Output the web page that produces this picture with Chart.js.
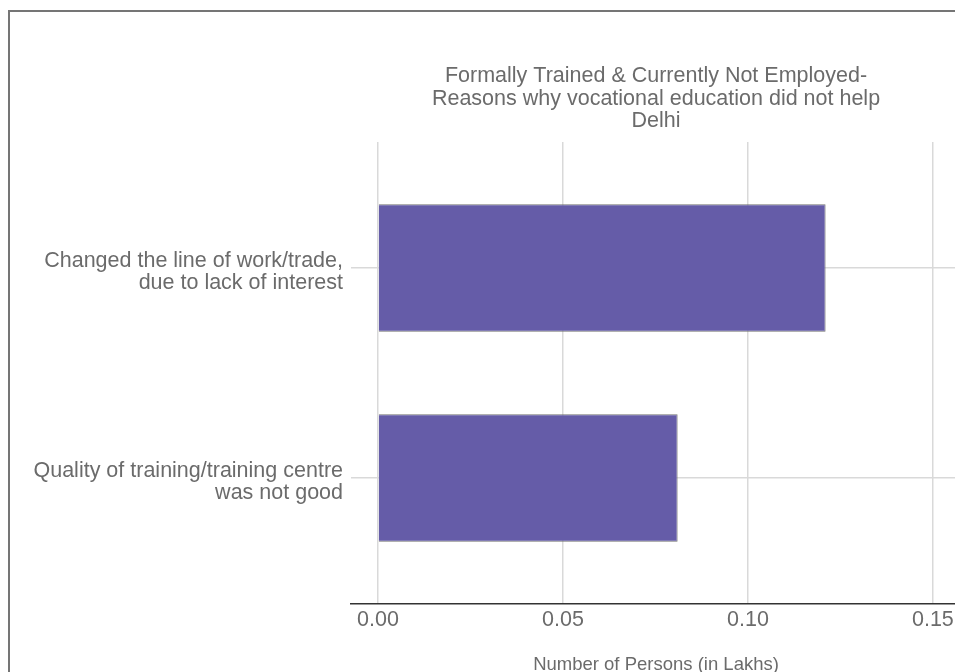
<!DOCTYPE html>
<html>
<head>
<meta charset="utf-8">
<script src="https://cdn.jsdelivr.net/npm/chart.js@4"></script>
<style>
  html, body { margin: 0; padding: 0; overflow: hidden; background: #fff; width: 955px; height: 672px; }
  #frame { position: absolute; left: 8px; top: 10px; width: 1000px; height: 700px;
           border-left: 2px solid #757575; border-top: 2px solid #757575; }
  #wrap { position: absolute; left: 0; top: 0; width: 961px; height: 690px; }
</style>
</head>
<body>
<div id="frame"></div>
<div id="wrap"><canvas id="c" width="961" height="690"></canvas></div>
<script>
const titleLines = [
  "Formally Trained & Currently Not Employed-",
  "Reasons why vocational education did not help",
  "Delhi"
];
const categories = [
  ["Changed the line of work/trade,", "due to lack of interest"],
  ["Quality of training/training centre", "was not good"]
];
const values = [0.121, 0.081];
const xTicks = [0, 0.05, 0.10, 0.15];
const xTitle = "Number of Persons (in Lakhs)";

const textColor = "#6b6b6b";
const fontFamily = "'Liberation Sans', Arial, sans-serif";

new Chart(document.getElementById("c"), {
  type: "bar",
  data: {
    datasets: [{
      data: values.map((v, i) => ({ x: v, y: i + 1 })),
      backgroundColor: "#655ca8",
      borderColor: "#747474",
      borderWidth: 1,
      barPercentage: 0.607,
      categoryPercentage: 1
    }]
  },
  options: {
    indexAxis: "y",
    responsive: false,
    animation: false,
    layout: { padding: { top: 0, right: 0, bottom: 15.5, left: 0 } },
    plugins: {
      legend: { display: false },
      tooltip: { enabled: false },
      title: {
        display: true,
        text: titleLines,
        fullSize: false,
        color: textColor,
        font: { family: fontFamily, size: 21.5, weight: "normal", lineHeight: 1.033 },
        padding: { top: 65.4, bottom: 10 }
      }
    },
    scales: {
      x: {
        type: "linear",
        min: -0.0073,
        max: 0.1576,
        afterBuildTicks: (s) => { s.ticks = xTicks.map(v => ({ value: v })); },
        ticks: {
          color: textColor,
          font: { family: fontFamily, size: 21.5, lineHeight: 1 },
          padding: 5,
          maxRotation: 0,
          callback: (v) => Number(v).toFixed(2)
        },
        grid: { color: "#d9d9d9", lineWidth: 1.5, drawTicks: false },
        border: { display: true, color: "#333333", width: 1.5 },
        title: {
          display: true,
          text: xTitle,
          color: textColor,
          font: { family: fontFamily, size: 18.5, lineHeight: 1 },
          padding: { top: 20.5, bottom: 0 }
        }
      },
      y: {
        type: "linear",
        reverse: true,
        offset: false,
        min: 0.4,
        max: 2.6,
        afterBuildTicks: (s) => { s.ticks = categories.map((c, i) => ({ value: i + 1 })); },
        afterFit: (s) => { s.width = 351; },
        ticks: {
          color: textColor,
          font: { family: fontFamily, size: 21.5, lineHeight: 1.023 },
          padding: 8,
          labelOffset: 4,
          callback: (v) => categories[v - 1]
        },
        grid: { color: "#d9d9d9", lineWidth: 1.5, drawTicks: false, offset: false },
        border: { display: false }
      }
    }
  }
});
</script>
</body>
</html>
